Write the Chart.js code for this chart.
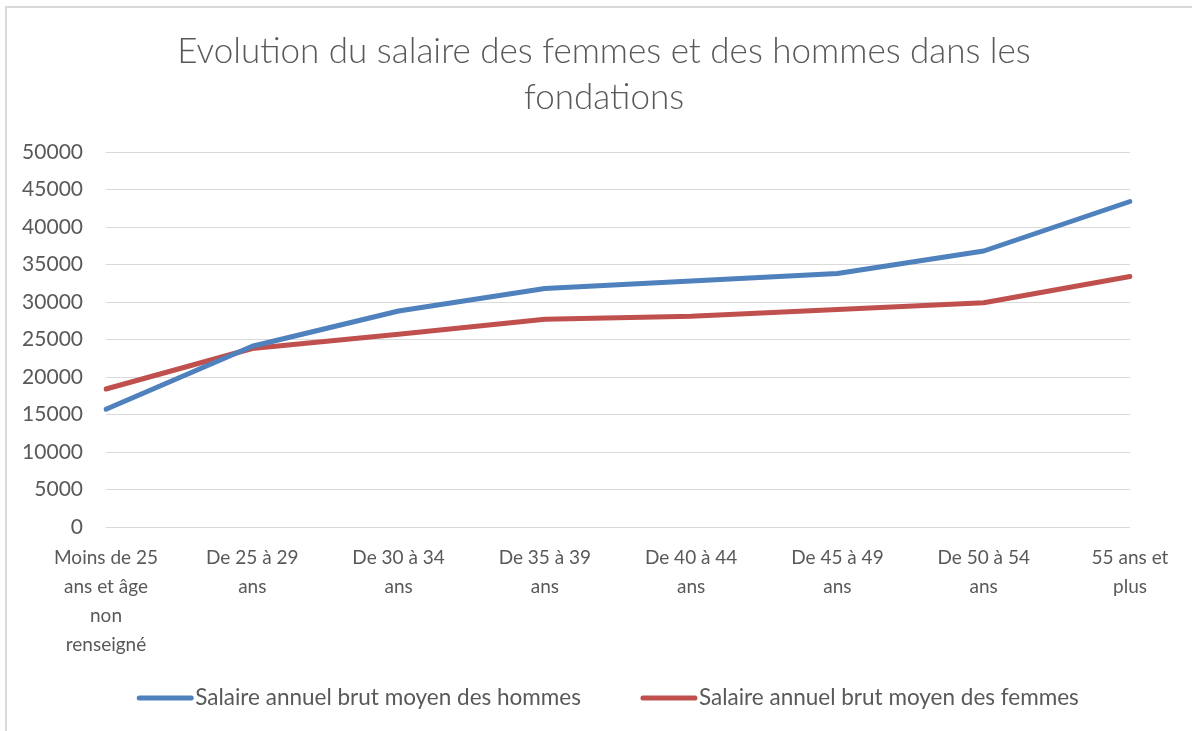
<!DOCTYPE html>
<html>
<head>
<meta charset="utf-8">
<script src="https://cdn.jsdelivr.net/npm/chart.js@4/dist/chart.umd.min.js"></script>
<style>
  html, body { margin: 0; padding: 0; background: #fff; overflow: hidden; }
  #wrap { position: relative; width: 1192px; height: 731px; }
  #frame { position: absolute; left: 5px; top: 6px; width: 1300px; height: 900px; border: 2px solid #D9D9D9; box-sizing: border-box; }
  canvas { position: absolute; left: 0; top: 0; }
</style>
</head>
<body>
<div id="wrap">
  <div id="frame"></div>
  <canvas id="c" width="1192" height="731"></canvas>
</div>
<script>
const titleLines = ["Evolution du salaire des femmes et des hommes dans les", "fondations"];
const categories = [
  ["Moins de 25", "ans et âge", "non", "renseigné"],
  ["De 25 à 29", "ans"],
  ["De 30 à 34", "ans"],
  ["De 35 à 39", "ans"],
  ["De 40 à 44", "ans"],
  ["De 45 à 49", "ans"],
  ["De 50 à 54", "ans"],
  ["55 ans et", "plus"]
];
const seriesNames = ["Salaire annuel brut moyen des hommes", "Salaire annuel brut moyen des femmes"];
const hommes = [15700, 24100, 28800, 31800, 32800, 33800, 36800, 43400];
const femmes = [18400, 23800, 25700, 27700, 28100, 29000, 29900, 33400];
const yMin = 0, yMax = 50000, yStep = 5000;

const textColor = '#595959';
const FONT = 'Lato, "Open Sans", sans-serif';

const customTitle = {
  id: 'customTitle',
  afterDraw(chart) {
    const ctx = chart.ctx;
    ctx.save();
    ctx.font = '300 35px ' + FONT;
    ctx.fillStyle = textColor;
    ctx.textAlign = 'center';
    ctx.textBaseline = 'middle';
    titleLines.forEach((t, i) => ctx.fillText(t, 604, 52 + i * 46));
    ctx.restore();
  }
};

const customLegend = {
  id: 'customLegend',
  afterDraw(chart) {
    const ctx = chart.ctx;
    const ds = chart.data.datasets;
    const y = 698, lineLen = 56, textGap = 2, itemGap = 60, center = 608;
    ctx.save();
    ctx.font = '22.5px ' + FONT;
    const widths = ds.map(d => lineLen + textGap + ctx.measureText(d.label).width);
    const total = widths.reduce((a, b) => a + b, 0) + itemGap * (ds.length - 1);
    let x = center - total / 2;
    ds.forEach((d, i) => {
      ctx.strokeStyle = d.borderColor;
      ctx.lineWidth = 5;
      ctx.lineCap = 'round';
      ctx.beginPath();
      ctx.moveTo(x + 2, y);
      ctx.lineTo(x + lineLen - 2, y);
      ctx.stroke();
      ctx.fillStyle = textColor;
      ctx.textBaseline = 'middle';
      ctx.textAlign = 'left';
      ctx.fillText(d.label, x + lineLen + textGap, y);
      x += widths[i] + itemGap;
    });
    ctx.restore();
  }
};

new Chart(document.getElementById('c'), {
  type: 'line',
  data: {
    labels: categories,
    datasets: [
      { label: seriesNames[0], data: hommes, borderColor: '#4F81BD', backgroundColor: '#4F81BD',
        borderWidth: 5, pointRadius: 0, tension: 0, borderCapStyle: 'round', borderJoinStyle: 'round' },
      { label: seriesNames[1], data: femmes, borderColor: '#C0504D', backgroundColor: '#C0504D',
        borderWidth: 5, pointRadius: 0, tension: 0, borderCapStyle: 'round', borderJoinStyle: 'round' }
    ]
  },
  options: {
    responsive: false,
    animation: false,
    layout: { padding: { left: 0, right: 62, top: 152, bottom: 54 } },
    plugins: {
      legend: { display: false },
      tooltip: { enabled: false },
      title: { display: false }
    },
    scales: {
      x: {
        grid: { display: false, drawTicks: false },
        border: { display: false },
        ticks: {
          color: textColor,
          font: { family: FONT, size: 19, lineHeight: 29 / 19 },
          padding: 16.5,
          maxRotation: 0,
          autoSkip: false
        },
        afterFit(scale) { scale.height = 150; }
      },
      y: {
        min: yMin, max: yMax,
        grid: { color: '#D9D9D9', lineWidth: 1, drawTicks: false },
        border: { display: false },
        ticks: {
          stepSize: yStep,
          color: textColor,
          font: { family: FONT, size: 21 },
          padding: 23,
          callback: v => String(v)
        },
        afterFit(scale) { scale.width = 106; }
      }
    }
  },
  plugins: [customTitle, customLegend]
});
</script>
</body>
</html>
